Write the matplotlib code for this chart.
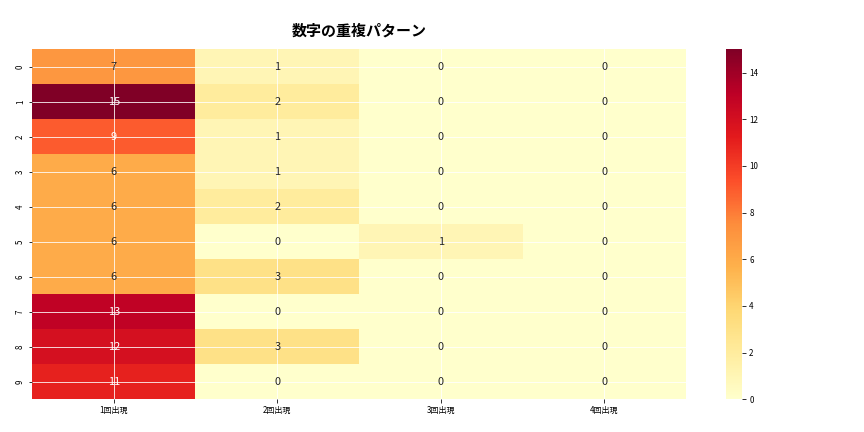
import numpy as np
import pandas as pd
import matplotlib.pyplot as plt
import seaborn as sns

plt.rcParams["font.family"] = "Noto Sans CJK JP"

rows = list(range(10))
columns = ["1回出現", "2回出現", "3回出現", "4回出現"]
once = [7, 15, 9, 6, 6, 6, 6, 13, 12, 11]
twice = [1, 2, 1, 1, 2, 0, 3, 0, 3, 0]
three = [0, 0, 0, 0, 0, 1, 0, 0, 0, 0]
four = [0, 0, 0, 0, 0, 0, 0, 0, 0, 0]

df = pd.DataFrame({"1回出現": once, "2回出現": twice, "3回出現": three, "4回出現": four}, index=rows)

fig = plt.figure(figsize=(12, 6), dpi=72)
ax = fig.add_axes([0.037, 0.076, 0.757, 0.81])
cax = fig.add_axes([0.84, 0.076, 0.019, 0.81])
sns.heatmap(df, annot=True, fmt="d", cmap="YlOrRd", ax=ax, cbar_ax=cax,
            annot_kws={"fontsize": 11})
ax.grid(True, color="white", linewidth=0.8)
ax.set_axisbelow(False)
ax.tick_params(labelsize=8)
cax.tick_params(labelsize=8)
ax.set_title("数字の重複パターン", fontsize=15, fontweight="bold", pad=14)

fig.savefig("out.png")
